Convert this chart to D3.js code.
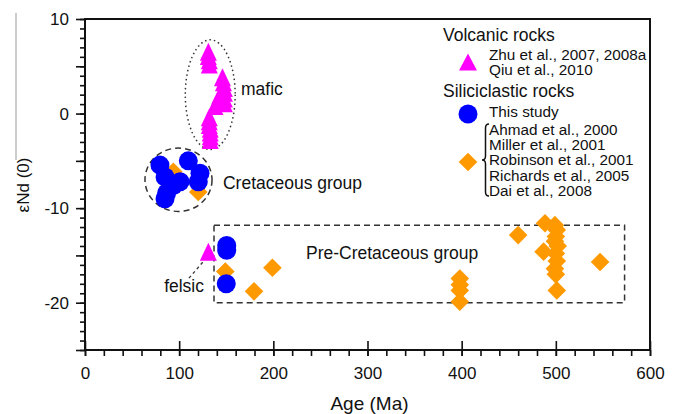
<!DOCTYPE html>
<html>
<head>
<meta charset="utf-8">
<script src="https://cdn.jsdelivr.net/npm/d3@7"></script>
<style>
  html, body { margin: 0; padding: 0; background: #fff; }
  svg text { font-family: "Liberation Sans", Arial, Helvetica, sans-serif; fill: #111; }
</style>
</head>
<body>
<svg id="chart" width="675" height="414"></svg>
<script>
// ---- Data: age (Ma) and εNd(0) ----
// Volcanic rocks (mafic cluster + one felsic sample)
const volcanicAge = [131, 131, 132, 132, 146, 147, 148, 148, 148, 148, 143, 138, 132, 132, 132, 133, 133, 133, 133, 131];
const volcanicNd  = [6.55, 6.1, 5.65, 5.2, 3.85, 3.3, 2.7, 2.2, 1.6, 1.1, 1.9, 0.8, -0.4, -0.8, -1.2, -1.6, -2.0, -2.4, -2.8, -14.6];

// Siliciclastic rocks, this study
const studyAge = [79.6, 109.7, 122.1, 120.3, 100.9, 85, 86.7, 85, 93.8, 150.5, 150.5, 150];
const studyNd  = [-5.45, -5.0, -6.3, -7.2, -7.2, -6.7, -8.4, -9.0, -7.6, -13.95, -14.45, -18.0];

// Siliciclastic rocks, published data
const publishedAge = [93.8, 120.3, 149, 199, 179.5, 398, 398, 398, 398, 460, 488.5, 487,
                      499, 501, 500, 499, 502, 500, 501, 499, 500, 501, 547];
const publishedNd  = [-6.15, -8.3, -16.7, -16.3, -18.8, -17.45, -18.1, -18.7, -19.9, -12.85, -11.6, -14.6,
                      -11.8, -12.3, -13.0, -13.5, -14.0, -14.8, -15.6, -16.4, -17.0, -18.7, -15.7];

const xTicks = [0, 100, 200, 300, 400, 500, 600];
const yTicks = [10, 0, -10, -20];

const legendVolcanic = ["Zhu et al., 2007, 2008a", "Qiu et al., 2010"];
const legendStudy = ["This study"];
const legendPublished = ["Ahmad et al., 2000", "Miller et al., 2001", "Robinson et al., 2001",
                         "Richards et al., 2005", "Dai et al., 2008"];

// ---- Colours ----
const cTri = "#ff00ff", cCirc = "#0000ff", cDia = "#ff9900";

const svg = d3.select("#chart");
const x = d3.scaleLinear().domain([0, 600]).range([85, 650]);
const y = d3.scaleLinear().domain([-25, 10]).range([350, 19]);

const triPath = (w, h) => `M0,${-h / 2}L${w / 2},${h / 2}L${-w / 2},${h / 2}Z`;
const diaPath = r => `M0,${-r}L${r},0L0,${r}L${-r},0Z`;

// ---- Axes ----
// x: minor ticks every 20 Ma
svg.append("g")
  .attr("transform", `translate(0,${y(-25)})`)
  .call(d3.axisBottom(x).tickValues(d3.range(0, 601, 20)).tickSize(6).tickFormat(""))
  .call(g => g.select(".domain").remove())
  .call(g => g.selectAll(".tick line").attr("stroke", "#111").attr("stroke-width", 1.6));
// x: labelled ticks crossing the axis
svg.append("g")
  .attr("transform", `translate(0,${y(-25)})`)
  .call(d3.axisBottom(x).tickValues(xTicks).tickSize(6).tickPadding(11))
  .call(g => g.select(".domain").remove())
  .call(g => g.selectAll(".tick line").attr("y1", -9).attr("stroke", "#111").attr("stroke-width", 1.6))
  .call(g => g.selectAll(".tick text").attr("font-size", 17).attr("fill", "#111"));

// y: minor ticks every unit
svg.append("g")
  .attr("transform", `translate(${x(0)},0)`)
  .call(d3.axisLeft(y).tickValues(d3.range(-25, 11, 1)).tickSize(5).tickFormat(""))
  .call(g => g.select(".domain").remove())
  .call(g => g.selectAll(".tick line").attr("stroke", "#111").attr("stroke-width", 1.6));
// y: ticks every 5, labels every 10
svg.append("g")
  .attr("transform", `translate(${x(0)},0)`)
  .call(d3.axisLeft(y).tickValues(d3.range(-25, 11, 5)).tickSize(9).tickPadding(7)
        .tickFormat(d => yTicks.includes(d) ? d : ""))
  .call(g => g.select(".domain").remove())
  .call(g => g.selectAll(".tick line").attr("stroke", "#111").attr("stroke-width", 1.6))
  .call(g => g.selectAll(".tick text").attr("font-size", 17).attr("fill", "#111"));

// plot frame
svg.append("rect")
  .attr("x", x(0)).attr("y", y(10))
  .attr("width", x(600) - x(0)).attr("height", y(-25) - y(10))
  .attr("fill", "none").attr("stroke", "#111").attr("stroke-width", 2);

// axis titles
svg.append("text")
  .attr("x", (x(0) + x(600)) / 2 + 2).attr("y", 410)
  .attr("text-anchor", "middle").attr("font-size", 19)
  .text("Age (Ma)");
svg.append("text")
  .attr("transform", `translate(29,${185}) rotate(-90)`)
  .attr("text-anchor", "middle").attr("font-size", 17)
  .text("εNd (0)");
svg.append("line")
  .attr("x1", 16).attr("x2", 16).attr("y1", 13).attr("y2", 160)
  .attr("stroke", "#999").attr("stroke-width", 1);

// ---- Group outlines ----
// mafic volcanic cluster (dotted ellipse)
svg.append("ellipse")
  .attr("cx", x(133)).attr("cy", y(2))
  .attr("rx", x(133 + 26.5) - x(133)).attr("ry", y(2 - 5.8) - y(2))
  .attr("fill", "none").attr("stroke", "#333").attr("stroke-width", 1.5)
  .attr("stroke-dasharray", "1.5,3");
// Cretaceous group (dashed ellipse)
svg.append("ellipse")
  .attr("cx", x(99.3)).attr("cy", y(-7))
  .attr("rx", x(99.3 + 35.6) - x(99.3)).attr("ry", y(-7 - 3.35) - y(-7))
  .attr("fill", "none").attr("stroke", "#333").attr("stroke-width", 1.5)
  .attr("stroke-dasharray", "6,4");
// Pre-Cretaceous group (dashed box)
svg.append("rect")
  .attr("x", x(137)).attr("y", y(-11.8))
  .attr("width", x(573) - x(137)).attr("height", y(-20) - y(-11.8))
  .attr("fill", "none").attr("stroke", "#333").attr("stroke-width", 1.5)
  .attr("stroke-dasharray", "6,4");
// felsic leader
svg.append("line")
  .attr("x1", x(110.4)).attr("y1", y(-17.4))
  .attr("x2", x(125.2)).attr("y2", y(-15.7))
  .attr("stroke", "#333").attr("stroke-width", 1.3).attr("stroke-dasharray", "3,3");

// ---- Marks ----
svg.append("g").selectAll("path")
  .data(d3.zip(publishedAge, publishedNd))
  .join("path")
  .attr("d", diaPath(9.3))
  .attr("transform", d => `translate(${x(d[0])},${y(d[1])})`)
  .attr("fill", cDia);

svg.append("g").selectAll("circle")
  .data(d3.zip(studyAge, studyNd))
  .join("circle")
  .attr("cx", d => x(d[0])).attr("cy", d => y(d[1])).attr("r", 9.5)
  .attr("fill", cCirc);

svg.append("g").selectAll("path")
  .data(d3.zip(volcanicAge, volcanicNd))
  .join("path")
  .attr("d", triPath(17, 18))
  .attr("transform", d => `translate(${x(d[0])},${y(d[1])})`)
  .attr("fill", cTri);

// ---- Annotations ----
const note = (age, nd, str, anchor) => svg.append("text")
  .attr("x", x(age)).attr("y", y(nd))
  .attr("text-anchor", anchor || "start").attr("font-size", 17.5)
  .text(str);
note(165.7, 1.96, "mafic");
note(146.5, -7.93, "Cretaceous group");
note(234.7, -15.33, "Pre-Cretaceous group");
note(126.4, -18.87, "felsic", "end");

// ---- Legend ----
const lg = svg.append("g");
lg.append("text").attr("x", 443).attr("y", 41).attr("font-size", 17.5).text("Volcanic rocks");
lg.append("path").attr("d", triPath(18, 17)).attr("transform", "translate(468,62)").attr("fill", cTri);
lg.selectAll(".rv").data(legendVolcanic).join("text")
  .attr("x", 489).attr("y", (d, i) => 59.5 + i * 15.7).attr("font-size", 15.3).text(d => d);

lg.append("text").attr("x", 443).attr("y", 97).attr("font-size", 17.5).text("Siliciclastic rocks");
lg.append("circle").attr("cx", 468).attr("cy", 114).attr("r", 9.5).attr("fill", cCirc);
lg.selectAll(".rs").data(legendStudy).join("text")
  .attr("x", 489).attr("y", 117).attr("font-size", 15.3).text(d => d);

lg.append("path").attr("d", diaPath(9.3)).attr("transform", "translate(468,162)").attr("fill", cDia);
lg.append("path")
  .attr("d", "M489,124 Q485.5,124 485.5,128 L485.5,156 Q485.5,160 482,160 Q485.5,160 485.5,164 L485.5,192 Q485.5,196 489,196")
  .attr("fill", "none").attr("stroke", "#111").attr("stroke-width", 1.5);
lg.selectAll(".rp").data(legendPublished).join("text")
  .attr("x", 489).attr("y", (d, i) => 134.5 + i * 15.4).attr("font-size", 15.3).text(d => d);
</script>
</body>
</html>
